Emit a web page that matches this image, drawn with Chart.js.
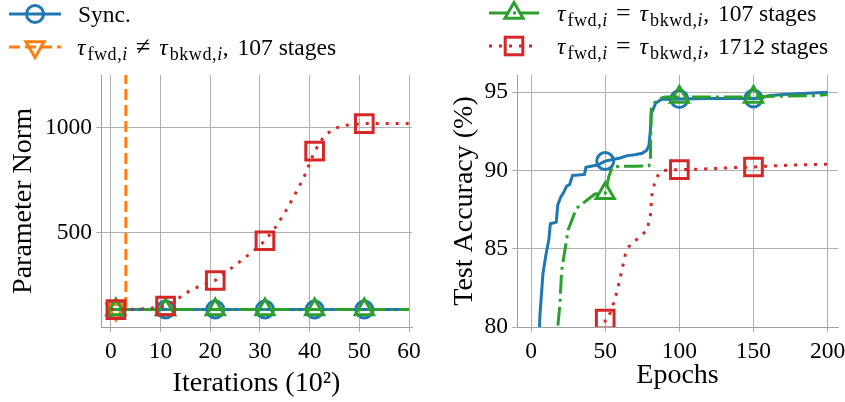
<!DOCTYPE html>
<html>
<head>
<meta charset="utf-8">
<script src="https://cdn.jsdelivr.net/npm/chart.js@4.4.0/dist/chart.umd.min.js"></script>
<style>
  html, body { margin: 0; padding: 0; background: #fff; }
  #wrap { position: relative; width: 845px; height: 402px; overflow: hidden; font-family: 'Liberation Serif', serif; color: #000; }
  canvas { position: absolute; top: 0; }
  #leftChart { left: 0; }
  #rightChart { left: 420px; }
  .lg { position: absolute; height: 30px; display: flex; align-items: center; font-size: 23.5px; white-space: nowrap; }
  .lg svg { flex: none; }
  .lg .txt { position: absolute; }
  .tau { margin-right: 2px; }
  sub { font-size: 18px; letter-spacing: 0.6px; vertical-align: -5px; line-height: 0; }
  .rel { margin: 0 9px 0 8px; font-size: 26px; line-height: 0; }
  .cm { margin-right: 3px; }
</style>
</head>
<body>
<div id="wrap">
  <canvas id="leftChart" width="420" height="402"></canvas>
  <canvas id="rightChart" width="425" height="402"></canvas>

  <div class="lg" style="left:9px; top:-1px;">
    <svg width="52" height="30"><line x1="0" y1="15" x2="52" y2="15" stroke="#1f77b4" stroke-width="3"/><circle cx="26" cy="15" r="8.5" fill="none" stroke="#1f77b4" stroke-width="3"/></svg>
    <span class="txt" style="left:69px;">Sync.</span>
  </div>
  <div class="lg" style="left:9px; top:32px;">
    <svg width="52" height="30"><line x1="0" y1="15" x2="52" y2="15" stroke="#ff7f0e" stroke-width="3" stroke-dasharray="11 5"/><polygon points="26,25.5 16.9,9.75 35.1,9.75" fill="none" stroke="#ff7f0e" stroke-width="3"/></svg>
    <span class="txt" style="left:68px;"><i class="tau">τ</i><sub>fwd,<i>i</i></sub><span class="rel">≠</span><i class="tau">τ</i><sub>bkwd,<i>i</i></sub><span class="cm">,</span> 107 stages</span>
  </div>
  <div class="lg" style="left:489px; top:-2px;">
    <svg width="50" height="30"><line x1="0" y1="15" x2="50" y2="15" stroke="#2ca02c" stroke-width="3" stroke-dasharray="19 5 3 5"/><polygon points="25,4.5 15.9,20.25 34.1,20.25" fill="none" stroke="#2ca02c" stroke-width="3"/></svg>
    <span class="txt" style="left:68px;"><i class="tau">τ</i><sub>fwd,<i>i</i></sub><span class="rel">=</span><i class="tau">τ</i><sub>bkwd,<i>i</i></sub><span class="cm">,</span> 107 stages</span>
  </div>
  <div class="lg" style="left:489px; top:31px;">
    <svg width="50" height="30"><line x1="0" y1="15" x2="50" y2="15" stroke="#d62728" stroke-width="3" stroke-dasharray="3 7"/><rect x="16.2" y="6.2" width="17.6" height="17.6" fill="none" stroke="#d62728" stroke-width="3"/></svg>
    <span class="txt" style="left:68px;"><i class="tau">τ</i><sub>fwd,<i>i</i></sub><span class="rel">=</span><i class="tau">τ</i><sub>bkwd,<i>i</i></sub><span class="cm">,</span> 1712 stages</span>
  </div>
</div>

<script>
// ---- left panel: parameter norm vs iterations (x in 10^2) ----
const iterTicks = [0, 10, 20, 30, 40, 50, 60];
const normTicks = [500, 1000];
const iterMarkers = [1, 11, 21, 31, 41, 51];

const normSyncX = [0, 1, 11, 21, 31, 41, 51, 60];
const normSyncY = [135, 135, 135, 135, 135, 135, 135, 135];

const normAsyncX = [0, 1, 2, 3, 3];
const normAsyncY = [135, 135, 135, 137, 5000];

const normEq107X = [0, 1, 11, 21, 31, 41, 51, 60];
const normEq107Y = [135, 135, 135, 135, 135, 135, 135, 135];

const normEq1712X = [0, 1, 3, 5, 7, 9, 11, 13, 15, 17, 19, 21, 23, 25, 27, 29, 31, 33, 35, 37, 39, 41, 43, 45, 47, 49, 51, 53, 56, 60];
const normEq1712Y = [135, 135, 136, 137, 139, 144, 152, 178, 212, 238, 256, 273, 310, 345, 382, 420, 462, 522, 595, 680, 772, 888, 962, 996, 1010, 1016, 1019, 1020, 1020, 1020];

// ---- right panel: test accuracy vs epochs ----
const epochTicks = [0, 50, 100, 150, 200];
const accTicks = [80, 85, 90, 95];
const epochMarkers = [50, 100, 150];

const accSyncX = [4, 6, 8, 10, 12, 13, 17, 18, 20, 22, 24, 26, 28, 30, 36, 37, 42, 45, 48, 50, 55, 60, 65, 70, 75, 78, 79.5, 80.5, 81, 84, 88, 92, 100, 110, 120, 130, 140, 150, 155, 160, 170, 180, 190, 200];
const accSyncY = [76, 80.8, 83.4, 84.6, 85.6, 86.6, 86.7, 87.8, 88.3, 88.6, 89.0, 89.1, 89.7, 89.7, 89.75, 90.2, 90.3, 90.35, 90.5, 90.6, 90.7, 90.8, 90.95, 91.0, 91.1, 91.3, 91.6, 92.6, 93.6, 94.3, 94.55, 94.55, 94.57, 94.58, 94.6, 94.6, 94.6, 94.6, 94.62, 94.78, 94.85, 94.9, 94.95, 95.0];

const accEq107X = [16, 18, 19.5, 20.6, 22.8, 25, 28.6, 30.8, 37.6, 43, 50, 52.4, 54.7, 60, 70, 79.5, 80.5, 81, 83, 86, 90, 100, 120, 150, 170, 190, 200];
const accEq107Y = [76, 80, 81.5, 83.6, 84.9, 86.2, 87.1, 87.6, 88.1, 88.5, 88.55, 89.6, 90.2, 90.27, 90.27, 90.3, 90.8, 93.9, 94.3, 94.55, 94.7, 94.7, 94.7, 94.7, 94.75, 94.78, 94.85];

const accEq1712X = [49, 50, 52.3, 55.6, 58, 60, 63.5, 65.8, 68, 71.4, 75, 78.2, 80.4, 81.6, 83.8, 86, 89.4, 95, 100, 110, 123, 135, 150, 163, 180, 200];
const accEq1712Y = [79, 80.5, 80.64, 81.5, 82.3, 83.1, 84.6, 85.1, 85.4, 85.6, 85.9, 86.2, 87.1, 88.5, 89.4, 89.75, 90.0, 90.05, 90.05, 90.08, 90.12, 90.18, 90.22, 90.3, 90.35, 90.4];

const COLORS = { sync: '#1f77b4', async: '#ff7f0e', eq107: '#2ca02c', eq1712: '#d62728' };
const SERIF = "'Liberation Serif', serif";

function points(xs, ys) {
  return xs.map((x, i) => ({ x: x, y: ys[i] }));
}

function series(xs, ys, color, dash, style, radius, marks, order, rotation) {
  return {
    data: points(xs, ys),
    borderColor: color,
    borderWidth: 3,
    borderDash: dash,
    borderCapStyle: 'butt',
    fill: false,
    tension: 0,
    order: order,
    pointStyle: style,
    pointRotation: rotation || 0,
    pointBorderColor: color,
    pointBorderWidth: 3,
    pointBackgroundColor: 'rgba(0,0,0,0)',
    pointRadius: ctx => (ctx.raw && marks.includes(ctx.raw.x)) ? radius : 0,
    pointHoverRadius: 0
  };
}

function axis(min, max, ticks, title, titlePad, fit) {
  return {
    type: 'linear',
    min: min,
    max: max,
    afterBuildTicks: s => { s.ticks = ticks.map(v => ({ value: v })); },
    afterFit: s => {
      fit(s);
      s.paddingLeft = 0; s.paddingRight = 0; s.paddingTop = 0; s.paddingBottom = 0;
    },
    grid: { color: '#b0b0b0', lineWidth: 1, tickLength: 5, tickColor: '#b0b0b0' },
    border: { display: true, color: '#a0a0a0', width: 1 },
    ticks: {
      color: '#000',
      font: { family: SERIF, size: 23.5 },
      padding: 4,
      autoSkip: false,
      maxRotation: 0,
      callback: v => String(v)
    },
    title: { display: true, text: title, color: '#000', font: { family: SERIF, size: 28 }, padding: titlePad }
  };
}

function makeChart(id, datasets, xScale, yScale, padRight) {
  return new Chart(document.getElementById(id), {
    type: 'line',
    data: { datasets: datasets },
    options: {
      responsive: false,
      animation: false,
      events: [],
      layout: { padding: { top: 75, right: padRight, left: 0, bottom: 0 } },
      plugins: { legend: { display: false }, tooltip: { enabled: false } },
      scales: { x: xScale, y: yScale }
    }
  });
}

const leftX = axis(-2, 60.6, iterTicks, 'Iterations (10²)', { top: 0, bottom: 2 }, s => { s.height = 75; });
leftX.ticks.padding = 6;
const leftY = axis(52, 1250, normTicks, 'Parameter Norm', { top: 7, bottom: 0 }, s => { s.width = 101; });

makeChart('leftChart', [
  series(normSyncX, normSyncY, COLORS.sync, [], 'circle', 8.5, iterMarkers, 3),
  series(normAsyncX, normAsyncY, COLORS.async, [11, 5], 'triangle', 10.5, iterMarkers, 2, 180),
  series(normEq107X, normEq107Y, COLORS.eq107, [19, 5, 3, 5], 'triangle', 10.5, iterMarkers, 1),
  series(normEq1712X, normEq1712Y, COLORS.eq1712, [3, 7], 'rect', 12.5, iterMarkers, 0)
], leftX, leftY, 8);

const rightX = axis(-9.5, 207, epochTicks, 'Epochs', { top: 0, bottom: 10 }, s => { s.height = 75; });
rightX.ticks.padding = 6;
const rightY = axis(80, 96.1, accTicks, 'Test Accuracy (%)', { top: 28, bottom: 0 }, s => { s.width = 97; });

makeChart('rightChart', [
  series(accSyncX, accSyncY, COLORS.sync, [], 'circle', 8.5, epochMarkers, 3),
  series(accEq107X, accEq107Y, COLORS.eq107, [19, 5, 3, 5], 'triangle', 10.5, epochMarkers, 1),
  series(accEq1712X, accEq1712Y, COLORS.eq1712, [3, 7], 'rect', 12.5, epochMarkers, 0)
], rightX, rightY, 7);
</script>
</body>
</html>
